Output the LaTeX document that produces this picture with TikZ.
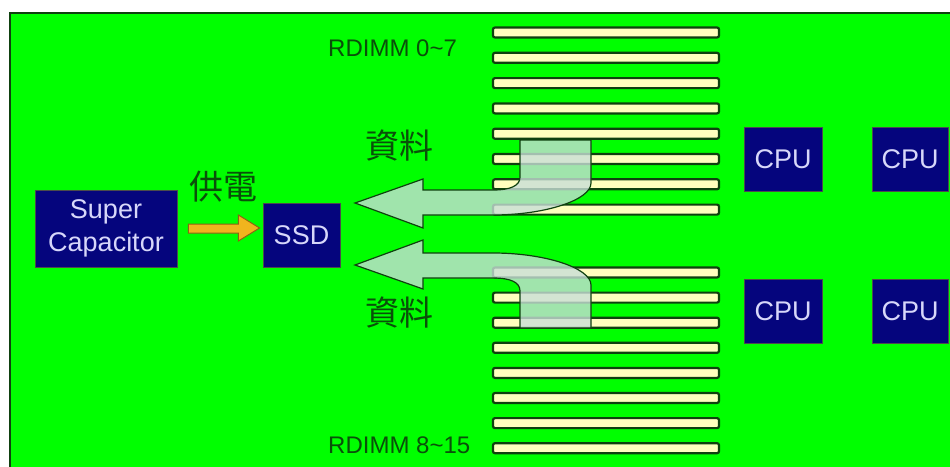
\documentclass[tikz,border=0pt]{standalone}
\usepackage{fontspec}
\setmainfont{Liberation Sans}
\newfontfamily\cjk{Noto Sans CJK TC}
\usetikzlibrary{calc}
\definecolor{bggreen}{RGB}{0,255,0}
\definecolor{dkgreen}{RGB}{15,65,15}
\definecolor{navy}{RGB}{5,5,125}
\definecolor{lav}{RGB}{215,215,250}
\definecolor{stripcol}{RGB}{255,255,190}
\definecolor{txtgreen}{RGB}{10,80,10}
\definecolor{mint}{RGB}{200,222,215}
\definecolor{gold}{RGB}{240,180,30}
\definecolor{golddark}{RGB}{140,100,20}
\begin{document}
\begin{tikzpicture}[x=1pt,y=-1pt,
  chip/.style={draw=black!70, line width=0.8pt, fill=navy, text=lav, font=\fontsize{27}{33}\selectfont, inner sep=0pt, align=center},
  dimm/.style={draw=dkgreen, line width=2.2pt, fill=stripcol, rounded corners=2pt, minimum width=226pt, minimum height=10pt, inner sep=0pt},
  flow/.style={draw=dkgreen, line width=1.2pt, fill=mint, fill opacity=0.8},
  lbl/.style={text=txtgreen, font=\fontsize{24}{24}\selectfont, inner sep=0pt, anchor=west},
  cjklbl/.style={text=txtgreen, font=\cjk\fontsize{34}{34}\selectfont, inner sep=0pt},
  power/.style={draw=golddark, line width=1pt, fill=gold}]
\useasboundingbox (0,0) rectangle (950,466);
\clip (0,0) rectangle (950,466);
\fill[white] (0,0) rectangle (950,466);
\draw[fill=bggreen, draw=dkgreen, line width=2pt] (10,13) rectangle (960,476);
% memory strips
\foreach \i in {0,...,7} {
  \node[dimm] (d\i) at (606,{32.5+25.3*\i}) {};
}
\foreach \i in {0,...,7} {
  \pgfmathtruncatemacro{\k}{\i+8}
  \node[dimm] (d\k) at (606,{272.5+25.1*\i}) {};
}
\node[lbl] (r0) at (328,48) {RDIMM 0\textasciitilde 7};
\node[lbl] (r8) at (328,445) {RDIMM 8\textasciitilde 15};
% chips
\node[chip, minimum width=142pt, minimum height=77pt] (sc) at (106,228.5) {Super\\Capacitor};
\node[chip, minimum width=77pt, minimum height=64pt] (ssd) at (301.5,235) {SSD};
\node[chip, minimum width=78pt, minimum height=64pt] (cpu1) at (783,159) {CPU};
\node[chip, minimum width=76pt, minimum height=64pt] (cpu2) at (910,159) {CPU};
\node[chip, minimum width=78pt, minimum height=64pt] (cpu3) at (783,311) {CPU};
\node[chip, minimum width=76pt, minimum height=64pt] (cpu4) at (910,311) {CPU};
% power arrow
\draw[power] ($(sc.east)+(11,-4.5)$) -- ++(50,0) -- ++(0,-9) -- ($(ssd.west)+(-3,-7)$) -- ($(sc.east)+(61,12.5)$) -- ++(0,-8) -- ++(-50,0) -- cycle;
\node[cjklbl] (pw) at (223,187) {供電};
% data flow arrows
\draw[flow] (355,203) -- (423,179) -- (423,190) -- (493,190) .. controls (510,190) and (520,186) .. (520,177) -- (520,140) -- (591,140) -- (591,183) .. controls (591,200) and (545,215) .. (493,215) -- (423,215) -- (423,228) -- cycle;
\draw[flow] (355,265) -- (423,289) -- (423,278) -- (493,278) .. controls (510,278) and (520,282) .. (520,291) -- (520,328) -- (591,328) -- (591,285) .. controls (591,268) and (545,253) .. (493,253) -- (423,253) -- (423,240) -- cycle;
\node[cjklbl] (data1) at (399,146) {資料};
\node[cjklbl] (data2) at (399,313) {資料};
\end{tikzpicture}
\end{document}
